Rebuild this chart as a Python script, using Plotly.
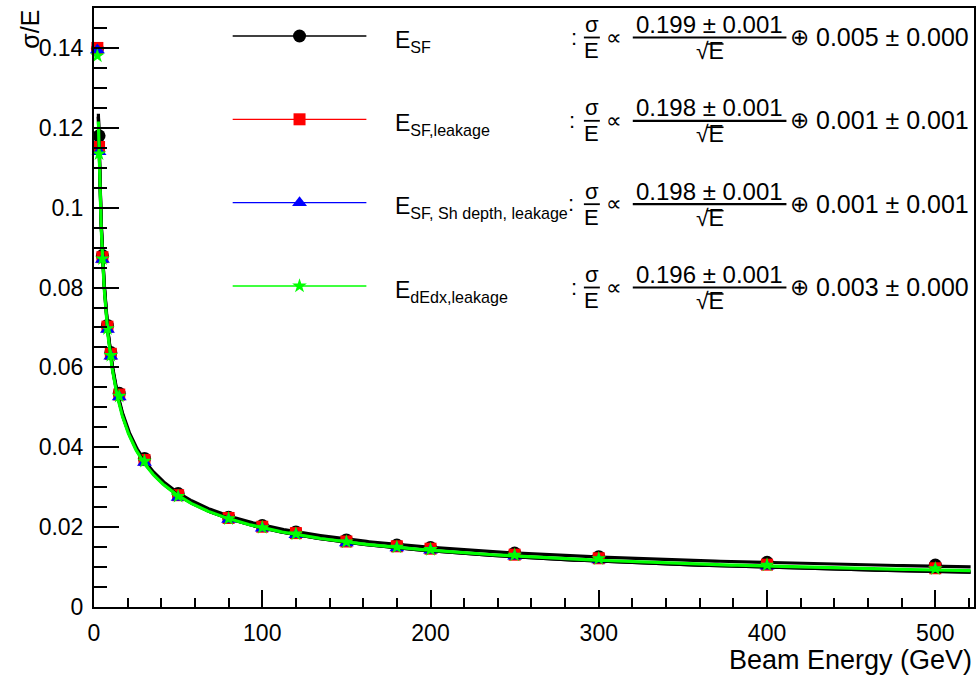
import numpy as np
import plotly.graph_objects as go

# Beam energies (GeV) and measured relative resolutions sigma/E
energy = [2, 3, 5, 8, 10, 15, 30, 50, 80, 100, 120, 150, 180, 200, 250, 300, 400, 500]
res_sf = [0.1398, 0.1180, 0.0880, 0.0705, 0.0637, 0.0535, 0.0372, 0.0284, 0.0225,
          0.0204, 0.0188, 0.0168, 0.0155, 0.0149, 0.0135, 0.0126, 0.0112, 0.0105]
res_sf_leak = [0.1400, 0.1152, 0.0876, 0.0702, 0.0634, 0.0532, 0.0368, 0.0280, 0.0223,
               0.0201, 0.0185, 0.0164, 0.0152, 0.0146, 0.0131, 0.0122, 0.0106, 0.0097]
res_sf_depth_leak = [0.1395, 0.1140, 0.0870, 0.0695, 0.0628, 0.0526, 0.0362, 0.0274, 0.0219,
                     0.0197, 0.0181, 0.0160, 0.0148, 0.0142, 0.0127, 0.0118, 0.0102, 0.0093]
res_dedx_leak = [0.1380, 0.1135, 0.0872, 0.0697, 0.0630, 0.0528, 0.0365, 0.0277, 0.0221,
                 0.0199, 0.0183, 0.0163, 0.0150, 0.0144, 0.0130, 0.0121, 0.0105, 0.0096]

# Fit results: sigma/E = a/sqrt(E) (+) b
fit_stoch = [0.199, 0.198, 0.198, 0.196]
fit_stoch_err = [0.001, 0.001, 0.001, 0.001]
fit_const = [0.005, 0.001, 0.001, 0.003]
fit_const_err = [0.000, 0.001, 0.001, 0.000]
fit_range = [2.6, 521.0]

series_labels = ["E<sub>SF</sub>", "E<sub>SF,leakage</sub>",
                 "E<sub>SF, Sh depth, leakage</sub>", "E<sub>dEdx,leakage</sub>"]
series_values = [res_sf, res_sf_leak, res_sf_depth_leak, res_dedx_leak]
series_colors = ["#000000", "#ff0000", "#0000ff", "#00ff00"]
fit_colors = ["#000000", "#000000", "#000000", "#00ff00"]
series_symbols = ["circle", "square", "triangle-up", "star"]
series_sizes = [13, 12, 13, 11]

FONT = "Liberation Sans, Arial, Helvetica, sans-serif"

# plot area in pixels
L, R, T, B = 94, 976, 8, 607
W, H = 980, 680

fig = go.Figure()

e_grid = np.geomspace(fit_range[0], fit_range[1], 600)
for vals, col, fcol, sym, sz, a, b in zip(series_values, series_colors, fit_colors,
                                           series_symbols, series_sizes, fit_stoch, fit_const):
    fig.add_trace(go.Scatter(
        x=energy, y=vals, mode="markers",
        marker=dict(symbol=sym, size=sz, color=col, line=dict(width=0)),
        showlegend=False, cliponaxis=False))
    fig.add_trace(go.Scatter(
        x=e_grid, y=np.sqrt(a ** 2 / e_grid + b ** 2), mode="lines",
        line=dict(color=fcol, width=3.2), showlegend=False))

# ---- legend block, laid out in pixel units on an overlay axis pair ----
row_y = [36.0, 119.3, 202.7, 286.0]
colon_x = [575, 573, 572, 575]
shapes = []
annotations = []


def txt(x, y, s, size, xanchor="center", yanchor="middle"):
    annotations.append(dict(x=x, y=y, xref="x2", yref="y2", text=s, showarrow=False,
                            xanchor=xanchor, yanchor=yanchor, borderpad=0,
                            font=dict(family=FONT, size=size, color="black")))


def hline(x0, x1, y, color="black", width=1.6):
    shapes.append(dict(type="line", xref="x2", yref="y2", x0=x0, x1=x1, y0=y, y1=y,
                       line=dict(color=color, width=width)))


for i, y0 in enumerate(row_y):
    # sample line + marker
    hline(233, 367, y0, color=series_colors[i], width=1.3)
    fig.add_trace(go.Scatter(
        x=[300], y=[y0], xaxis="x2", yaxis="y2", mode="markers",
        marker=dict(symbol=series_symbols[i], size=series_sizes[i],
                    color=series_colors[i], line=dict(width=0)),
        showlegend=False, hoverinfo="skip", cliponaxis=False))
    # series name
    txt(395, y0 + 5, series_labels[i], 23, xanchor="left")
    # ": sigma/E ∝"
    txt(colon_x[i], y0 + 1, ":", 22)
    txt(593, y0 + 2, "σ", 22, yanchor="bottom")
    hline(585, 601, y0 + 1.5, width=1.8)
    txt(593, y0 + 1, "E", 22, yanchor="top")
    txt(615, y0 + 1, "∝", 22)
    # (a ± da)/sqrt(E)
    txt(711, y0 + 3, f"{fit_stoch[i]:.3f} ± {fit_stoch_err[i]:.3f}", 24, yanchor="bottom")
    hline(634, 788, y0 + 1.5, width=2.2)
    txt(711, y0 + 1, "√E", 23, yanchor="top")
    hline(708, 725, y0 + 8, width=1.5)
    # (+) b ± db
    txt(801, y0 + 1, "⊕", 23)
    txt(817, y0 + 1, f"{fit_const[i]:.3f} ± {fit_const_err[i]:.3f}", 25, xanchor="left")

# axis titles
annotations.append(dict(x=1, y=-(660 - B) / (B - T), xref="paper", yref="paper",
                        text="Beam Energy (GeV)", showarrow=False,
                        xanchor="right", yanchor="middle",
                        font=dict(family=FONT, size=27, color="black")))
annotations.append(dict(x=-(L - 29) / (R - L), y=1.0, xref="paper", yref="paper", text="σ/E",
                        showarrow=False, xanchor="center", yanchor="top", textangle=-90,
                        font=dict(family=FONT, size=25, color="black")))

fig.update_layout(
    width=W, height=H,
    margin=dict(l=L, r=W - R, t=T, b=H - B, pad=0),
    paper_bgcolor="white", plot_bgcolor="white",
    font=dict(family=FONT, size=23, color="black"),
    shapes=shapes, annotations=annotations,
    xaxis=dict(range=[0, 523], showgrid=False, zeroline=False,
               showline=True, linecolor="black", linewidth=2, mirror=True,
               ticks="inside", ticklen=17, tickwidth=1.5, tickcolor="black",
               dtick=100, tick0=0, ticklabelstandoff=4,
               tickfont=dict(family=FONT, size=23, color="black"),
               minor=dict(ticks="inside", ticklen=9, dtick=20, tickwidth=1.5,
                          tickcolor="black", showgrid=False)),
    yaxis=dict(range=[0, 0.15], showgrid=False, zeroline=False,
               showline=True, linecolor="black", linewidth=2, mirror=True,
               ticks="inside", ticklen=25, tickwidth=1.5, tickcolor="black",
               dtick=0.02, tick0=0, ticklabelstandoff=4,
               tickfont=dict(family=FONT, size=23, color="black"),
               minor=dict(ticks="inside", ticklen=13, dtick=0.005, tickwidth=1.5,
                          tickcolor="black", showgrid=False)),
    xaxis2=dict(range=[L, R], overlaying="x", visible=False, fixedrange=True),
    yaxis2=dict(range=[B, T], overlaying="y", visible=False, fixedrange=True),
)

fig.write_html("out.html")
